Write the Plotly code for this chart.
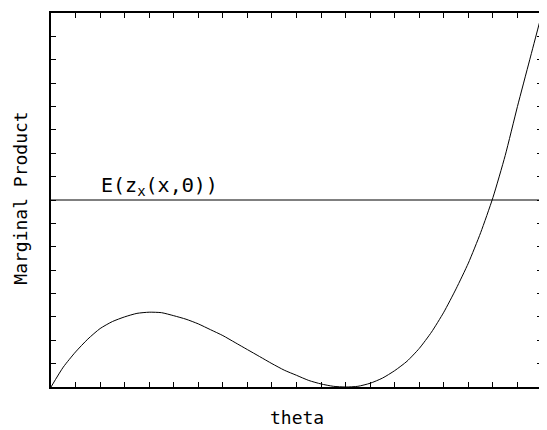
import plotly.graph_objects as go

theta = [0, 0.5, 1, 1.5, 2, 2.5, 3, 3.5, 4, 4.5, 5, 5.5, 6, 6.5, 7, 7.5, 8, 8.5, 9, 9.5,
         10, 10.5, 11, 11.5, 12, 12.5, 13, 13.5, 14, 14.5, 15, 15.5, 16, 16.5, 17, 17.5,
         18, 18.5, 19, 19.5, 20]
marginal_product = [0, 0.85, 1.5, 2.05, 2.5, 2.8, 3.0, 3.15, 3.2, 3.18, 3.05, 2.9, 2.7, 2.45,
                    2.2, 1.9, 1.6, 1.3, 1.0, 0.72, 0.5, 0.28, 0.13, 0.03, 0, 0.03, 0.16, 0.38,
                    0.7, 1.1, 1.65, 2.35, 3.2, 4.2, 5.3, 6.6, 8.1, 9.9, 12.0, 14.0, 16.0]
expected_x = [0, 20]
expected_y = [8, 8]
label_text = "E(z<sub>x</sub>(x,Θ))"

font_main = "DejaVu Sans Mono"

fig = go.Figure()
fig.add_trace(go.Scatter(x=theta, y=marginal_product, mode="lines",
                         line=dict(color="black", width=1, shape="spline", smoothing=0.6),
                         showlegend=False, hoverinfo="skip"))
fig.add_trace(go.Scatter(x=expected_x, y=expected_y, mode="lines",
                         line=dict(color="black", width=1),
                         showlegend=False, hoverinfo="skip"))

fig.add_annotation(x=2.0, y=8, xref="x", yref="y", text=label_text, showarrow=False,
                   xanchor="left", yanchor="bottom", yshift=-1, xshift=-1,
                   font=dict(family=font_main, size=20, color="black"))
fig.add_annotation(x=0.5, y=-0.082, xref="paper", yref="paper", text="theta", showarrow=False,
                   xanchor="center", yanchor="middle",
                   font=dict(family=font_main, size=18, color="black"))
fig.add_annotation(x=-0.062, y=0.505, xref="paper", yref="paper", text="Marginal Product",
                   showarrow=False, textangle=-90, xanchor="center", yanchor="middle",
                   font=dict(family=font_main, size=18, color="black"))

axis_common = dict(showgrid=False, zeroline=False, showticklabels=False,
                   ticks="inside", ticklen=5, tickwidth=1, tickcolor="black",
                   showline=True, linecolor="black", linewidth=1.5, mirror="ticks")
fig.update_xaxes(range=[0, 20], tick0=0, dtick=1, **axis_common)
fig.update_yaxes(range=[0, 16], tick0=0, dtick=1, **axis_common)

fig.update_layout(width=539, height=422,
                  margin=dict(l=43, r=3, t=3, b=43),
                  paper_bgcolor="white", plot_bgcolor="white")

fig.write_html("out.html")
